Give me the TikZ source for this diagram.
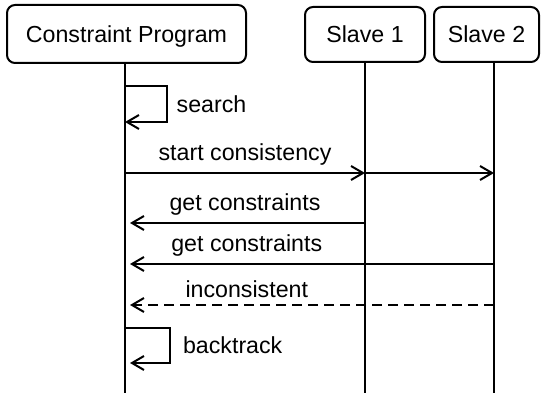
\documentclass[tikz,border=0pt]{standalone}
\usepackage{fontspec}
\setmainfont{Liberation Sans}
\usetikzlibrary{arrows.meta}
\begin{document}
\begin{tikzpicture}[x=0.5pt,y=-0.5pt,line width=1pt,
        font=\fontsize{11.6}{14}\selectfont,
        actor/.style={draw,rounded corners=4pt,inner sep=0pt,text depth=0pt,minimum height=27.5pt},
        msg/.style={-{Straight Barb[length=6pt,width=7pt]}},
        reply/.style={msg,shorten >=2.5pt}]
    \useasboundingbox (0,0) rectangle (541,395);
    \node[actor,minimum width=119.5pt,minimum height=29pt] (prog) at (126.5,34) {Constraint Program};
    \node[actor,minimum width=60pt] (slave1) at (365,34.5) {Slave 1};
    \node[actor,minimum width=52.5pt] (slave2) at (486.5,34.5) {Slave 2};
    % lifelines
    \coordinate (progtop) at (125,63);  \coordinate (progbot) at (125,393);
    \coordinate (s1top) at (365,62);    \coordinate (s1bot) at (365,393);
    \coordinate (s2top) at (494,62);    \coordinate (s2bot) at (494,393);
    \draw (progtop) -- (progbot);
    \draw (s1top) -- (s1bot);
    \draw (s2top) -- (s2bot);
    % messages
    \draw[msg] (progtop |- 0,86) -- ++(42,0) -- node[right,xshift=1pt] {search} ++(0,36) -- ++(-42,0);
    \draw[msg] (progtop |- 0,173) -- node[above] {start consistency} (s1top |- 0,173);
    \draw[msg] (s1top |- 0,173) -- (s2top |- 0,173);
    \draw[reply] (s1top |- 0,223) -- node[above] {get constraints} (progtop |- 0,223);
    \draw[reply] (s2top |- 0,264) -- node[above,pos=0.67] {get constraints} (progtop |- 0,264);
    \draw[reply,dash pattern=on 5pt off 3pt] (s2top |- 0,305) -- node[above,pos=0.67] {inconsistent} (progtop |- 0,305);
    \draw[reply] (progtop |- 0,328) -- ++(45,0) -- node[right,xshift=2.7pt] {backtrack} ++(0,35) -- ++(-45,0);
\end{tikzpicture}
\end{document}
